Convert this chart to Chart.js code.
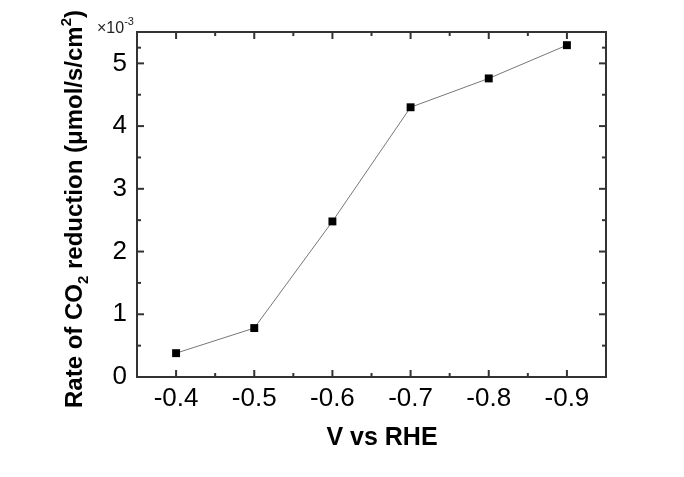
<!DOCTYPE html>
<html>
<head>
<meta charset="utf-8">
<script src="https://cdn.jsdelivr.net/npm/chart.js@4"></script>
<style>
  html, body { margin: 0; padding: 0; background: #fff; }
  #wrap { width: 684px; height: 477px; }
</style>
</head>
<body>
<div id="wrap"><canvas id="chart" width="684" height="477"></canvas></div>
<script>
// data (rate in units of 1e-3 umol/s/cm2)
const potentials = [-0.4, -0.5, -0.6, -0.7, -0.8, -0.9];
const rates = [0.38, 0.78, 2.48, 4.30, 4.76, 5.29];
const xTickValues = [-0.4, -0.5, -0.6, -0.7, -0.8, -0.9];
const yTickValues = [0, 1, 2, 3, 4, 5];

const FONT = '"Liberation Sans", Arial, sans-serif';

// midpoints between major ticks -> minor ticks
function minors(vals) {
    const out = [];
    for (let i = 0; i < vals.length - 1; i++) out.push((vals[i] + vals[i + 1]) / 2);
    return out;
}

const framePlugin = {
    id: 'frame',
    afterDraw(chart) {
        const { ctx, chartArea: a, scales } = chart;
        const xs = scales.x, ys = scales.y;
        ctx.save();
        ctx.strokeStyle = '#333';
        ctx.lineWidth = 2;

        // inward tick marks, bottom/top and left/right
        const tick = (x1, y1, x2, y2) => {
            ctx.beginPath(); ctx.moveTo(x1, y1); ctx.lineTo(x2, y2); ctx.stroke();
        };
        xTickValues.forEach(v => {
            const px = xs.getPixelForValue(v);
            tick(px, a.bottom, px, a.bottom - 7);
            tick(px, a.top, px, a.top + 7);
        });
        minors(xTickValues).forEach(v => {
            const px = xs.getPixelForValue(v);
            tick(px, a.bottom, px, a.bottom - 4);
            tick(px, a.top, px, a.top + 4);
        });
        const yAll = yTickValues.concat([5.5]);
        yTickValues.forEach(v => {
            const py = ys.getPixelForValue(v);
            tick(a.left, py, a.left + 7, py);
            tick(a.right, py, a.right - 7, py);
        });
        minors(yAll).forEach(v => {
            const py = ys.getPixelForValue(v);
            tick(a.left, py, a.left + 4, py);
            tick(a.right, py, a.right - 4, py);
        });

        ctx.strokeRect(a.left, a.top, a.right - a.left, a.bottom - a.top);

        // x title
        ctx.fillStyle = '#000';
        ctx.font = 'bold 25px ' + FONT;
        ctx.textAlign = 'center';
        ctx.textBaseline = 'alphabetic';
        ctx.fillText('V vs RHE', 382, 445);

        // y title with sub/superscripts
        const parts = [
            ['Rate of CO', 0], ['2', 1], [' reduction (\u03bcmol/s/cm', 0], ['2', -1], [')', 0]
        ];
        const big = 'bold 24px ' + FONT, small = 'bold 15px ' + FONT;
        let total = 0;
        parts.forEach(p => { ctx.font = p[1] ? small : big; total += ctx.measureText(p[0]).width; });
        ctx.translate(82, 209);
        ctx.rotate(-Math.PI / 2);
        ctx.textAlign = 'left';
        let cx = -total / 2;
        parts.forEach(p => {
            ctx.font = p[1] ? small : big;
            const dy = p[1] === 1 ? 6 : (p[1] === -1 ? -11 : 0);
            ctx.fillText(p[0], cx, dy);
            cx += ctx.measureText(p[0]).width;
        });
        ctx.setTransform(1, 0, 0, 1, 0, 0);

        // exponent label
        ctx.font = '16px ' + FONT;
        ctx.fillStyle = '#222';
        ctx.textAlign = 'left';
        ctx.fillText('\u00d710', 97, 33);
        const w = ctx.measureText('\u00d710').width;
        ctx.font = '11px ' + FONT;
        ctx.fillText('-3', 97 + w, 25);
        ctx.restore();
    }
};

const fixedSize = (size, horizontal) => scale => {
    if (horizontal) scale.height = size; else scale.width = size;
};

new Chart(document.getElementById('chart'), {
    type: 'line',
    data: {
        datasets: [{
            data: potentials.map((v, i) => ({ x: v, y: rates[i] })),
            borderColor: '#777',
            borderWidth: 1,
            pointStyle: 'rect',
            pointRadius: 5.6,
            pointBackgroundColor: '#000',
            pointBorderColor: '#000',
            pointBorderWidth: 0,
            tension: 0
        }]
    },
    options: {
        responsive: false,
        animation: false,
        events: [],
        layout: { padding: 0 },
        plugins: { legend: { display: false }, tooltip: { enabled: false } },
        scales: {
            x: {
                type: 'linear',
                position: 'bottom',
                min: -0.95,
                max: -0.35,
                reverse: true,
                afterBuildTicks: s => { s.ticks = xTickValues.map(v => ({ value: v })); },
                afterFit: fixedSize(100, true),
                grid: { display: false, drawTicks: false },
                border: { display: false },
                ticks: {
                    padding: 6,
                    color: '#000',
                    font: { family: FONT, size: 26 },
                    callback: v => v.toFixed(1)
                }
            },
            xTop: {
                type: 'linear',
                position: 'top',
                min: -0.95,
                max: -0.35,
                afterFit: fixedSize(32, true),
                grid: { display: false, drawTicks: false },
                border: { display: false },
                ticks: { display: false }
            },
            y: {
                type: 'linear',
                position: 'left',
                min: 0,
                max: 5.5,
                afterBuildTicks: s => { s.ticks = yTickValues.map(v => ({ value: v })); },
                afterFit: fixedSize(137, false),
                grid: { display: false, drawTicks: false },
                border: { display: false },
                ticks: {
                    padding: 10,
                    color: '#000',
                    font: { family: FONT, size: 26 },
                    callback: v => String(v)
                }
            },
            yRight: {
                type: 'linear',
                position: 'right',
                min: 0,
                max: 5.5,
                afterFit: fixedSize(78, false),
                grid: { display: false, drawTicks: false },
                border: { display: false },
                ticks: { display: false }
            }
        }
    },
    plugins: [framePlugin]
});
</script>
</body>
</html>
